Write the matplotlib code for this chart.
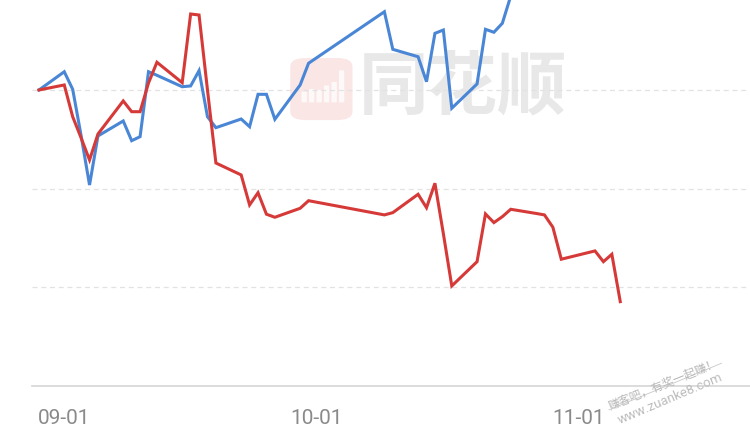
import matplotlib
matplotlib.use("Agg")
import matplotlib.pyplot as plt
import matplotlib.dates as mdates
from matplotlib.patches import FancyBboxPatch
import pandas as pd

plt.rcParams['font.family'] = ['Roboto', 'Noto Sans CJK SC', 'DejaVu Sans']

# trading days (2025), cumulative change in %
dates = [
    "2025-08-29", "2025-09-01", "2025-09-02", "2025-09-03", "2025-09-04", "2025-09-05",
    "2025-09-08", "2025-09-09", "2025-09-10", "2025-09-11", "2025-09-12",
    "2025-09-15", "2025-09-16", "2025-09-17", "2025-09-18", "2025-09-19",
    "2025-09-22", "2025-09-23", "2025-09-24", "2025-09-25", "2025-09-26",
    "2025-09-29", "2025-09-30", "2025-10-09", "2025-10-10",
    "2025-10-13", "2025-10-14", "2025-10-15", "2025-10-16", "2025-10-17",
    "2025-10-20", "2025-10-21", "2025-10-22", "2025-10-23", "2025-10-24",
    "2025-10-27", "2025-10-28", "2025-10-29", "2025-10-30", "2025-10-31",
    "2025-11-03", "2025-11-04", "2025-11-05", "2025-11-06",
]

red_values = [
    0.0, 0.51, -2.71, -4.86, -7.09, -4.46,
    -1.11, -2.20, -2.20, 0.71, 2.81,
    0.74, 7.70, 7.60, 0.0, -7.40,
    -8.61, -11.65, -10.41, -12.59, -12.90,
    -11.99, -11.22, -12.66, -12.43,
    -10.57, -11.93, -9.45, -14.56, -19.86,
    -17.40, -12.56, -13.44, -12.84, -12.09,
    -12.51, -12.66, -13.91, -17.15, -16.94,
    -16.31, -17.40, -16.65, -21.45,
]

# blue runs off the top of the chart after 10-24
blue_values = [
    0.0, 1.85, 0.07, -4.63, -9.63, -4.66,
    -3.14, -5.14, -4.73, 1.85, 1.49,
    0.33, 0.41, 1.96, -2.71, -3.82,
    -2.94, -3.72, -0.44, -0.44, -2.97,
    0.51, 2.71, 7.93, 4.12,
    3.37, 0.84, 5.74, 6.08, -1.85,
    0.61, 6.15, 5.85, 6.76, 9.52,
]

tick_dates = ["2025-09-01", "2025-10-01", "2025-11-01"]
tick_labels = ["09-01", "10-01", "11-01"]

x = pd.to_datetime(dates)
x_blue = x[:len(blue_values)]

fig = plt.figure(figsize=(7.5, 4.43), dpi=100)
ax = fig.add_axes([32 / 750, 57 / 443, (750 - 32) / 750, 386 / 443])
ax.set_zorder(2)

# watermark logo (behind the axes)
logo = FancyBboxPatch((0.387, 0.729), 0.083, 0.14,
                      boxstyle="round,pad=0,rounding_size=0.02",
                      transform=fig.transFigure, facecolor="#fbe4e4",
                      edgecolor="none", alpha=0.9, zorder=0)
fig.patches.append(logo)
for bx, bh in [(0.403, 0.022), (0.413, 0.028), (0.423, 0.026), (0.433, 0.036), (0.443, 0.044), (0.453, 0.07)]:
    fig.patches.append(FancyBboxPatch((bx, 0.77), 0.005, bh,
                                      boxstyle="round,pad=0.001",
                                      transform=fig.transFigure,
                                      facecolor="white", edgecolor="none",
                                      alpha=0.8, zorder=1))
fig.text(0.617, 0.800, "同花顺", fontsize=50, fontweight="bold",
         color="#e8e8e8", ha="center", va="center",
         family=["Noto Sans CJK SC"], zorder=0)

# lines
ax.plot(x_blue, blue_values, color="#4a86d6", lw=2.2, zorder=3,
        solid_joinstyle="miter")
ax.plot(x, red_values, color="#d63a38", lw=2.2, zorder=4,
        solid_joinstyle="miter")

start = pd.Timestamp("2025-08-29")
ax.set_xlim(mdates.date2num(start - pd.Timedelta(days=0.83)),
            mdates.date2num(start + pd.Timedelta(days=84.4)))
ax.set_ylim(-30, 9.12)

ax.set_yticks([-20, -10, 0])
ax.yaxis.grid(True, color="#e2e2e2", linestyle=(0, (4, 3)), linewidth=0.9)
ax.set_axisbelow(True)
ax.tick_params(axis="y", left=False, labelleft=False)

ax.set_xticks(pd.to_datetime(tick_dates))
ax.set_xticklabels(tick_labels)
ax.tick_params(axis="x", length=0, pad=16.5, labelsize=15, labelcolor="#8a8a8a")

for side in ["left", "right", "top"]:
    ax.spines[side].set_visible(False)
ax.spines["bottom"].set_color("#d6d6d6")
ax.spines["bottom"].set_linewidth(1.2)
ax.patch.set_alpha(0)

# site watermark
fig.text(0.884, 0.133, "赚客吧，有奖一起赚！", fontsize=8.5, color="#b8b8b8",
         rotation=22, ha="center", va="center", family=["Noto Sans CJK SC"])
fig.text(0.893, 0.100, "www.zuanke8.com", fontsize=9.5, color="#bdbdbd",
         rotation=23, ha="center", va="center")
fig.add_artist(plt.Line2D([0.812, 0.962], [0.075, 0.18], color="#c8c8c8",
                          lw=0.6, transform=fig.transFigure))

fig.savefig("out.png", dpi=100)
